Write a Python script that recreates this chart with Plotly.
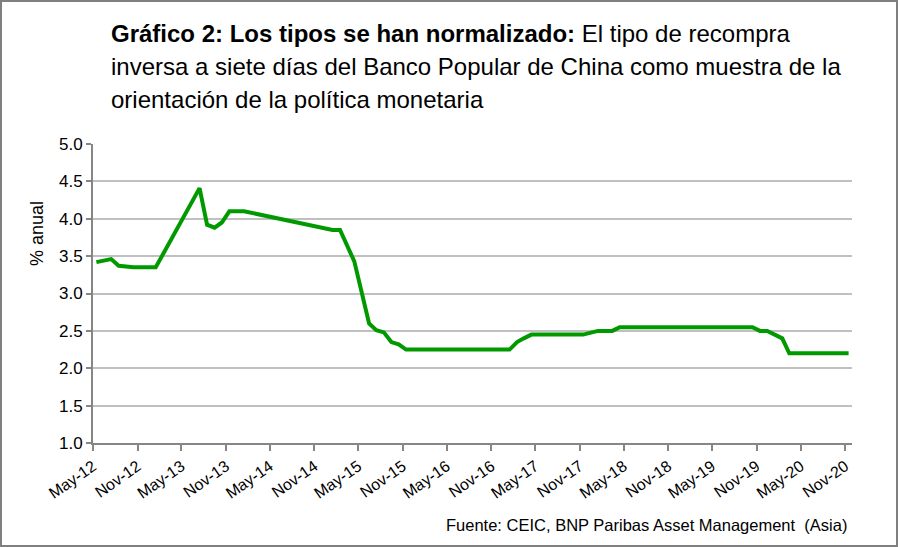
import plotly.graph_objects as go

dates = ["2012-05-15", "2012-07-15", "2012-08-15", "2012-10-15", "2013-01-15",
         "2013-07-15", "2013-08-15", "2013-09-15", "2013-10-15", "2013-11-15",
         "2014-01-15", "2015-01-15", "2015-02-15", "2015-04-15", "2015-06-15",
         "2015-07-15", "2015-08-15", "2015-09-15", "2015-10-15", "2015-11-15",
         "2017-01-15", "2017-02-15", "2017-03-15", "2017-04-15", "2017-11-15",
         "2018-01-15", "2018-03-15", "2018-04-15", "2019-10-15", "2019-11-15",
         "2019-12-15", "2020-02-15", "2020-03-15", "2020-11-15"]
rates = [3.42, 3.46, 3.37, 3.35, 3.35,
         4.41, 3.92, 3.88, 3.95, 4.10,
         4.10, 3.85, 3.85, 3.43, 2.60,
         2.51, 2.48, 2.35, 2.32, 2.25,
         2.25, 2.35, 2.40, 2.45, 2.45,
         2.50, 2.50, 2.55, 2.55, 2.50,
         2.50, 2.40, 2.20, 2.20]

y_ticks = [1.0, 1.5, 2.0, 2.5, 3.0, 3.5, 4.0, 4.5, 5.0]

title_lines = ["<b>Gráfico 2: Los tipos se han normalizado:</b> El tipo de recompra",
               "inversa a siete días del Banco Popular de China como muestra de la",
               "orientación de la política monetaria"]
y_title = "% anual"
source = "Fuente: CEIC, BNP Paribas Asset Management  (Asia)"

W, H = 898, 547
ml, mr, mt, mb = 93, 46, 144, 104
pw, ph = W - ml - mr, H - mt - mb

FONT = "Liberation Sans, Arial, sans-serif"


def px(xp):
    return (xp - ml) / pw


def py(yp):
    return (H - mb - yp) / ph


fig = go.Figure()
fig.add_trace(go.Scatter(x=dates, y=rates, mode="lines",
                         line=dict(color="#009A00", width=4), hoverinfo="skip"))

fig.update_layout(
    width=W, height=H,
    margin=dict(l=ml, r=mr, t=mt, b=mb),
    paper_bgcolor="white", plot_bgcolor="white",
    showlegend=False,
    font=dict(family=FONT, color="black"),
    xaxis=dict(type="date", range=["2012-05-01", "2020-11-29"],
               tick0="2012-05-01", dtick="M6", tickformat="%b-%y",
               tickangle=-35, ticks="outside", ticklen=6, tickwidth=2,
               tickcolor="#868686", showline=True, linecolor="#868686",
               linewidth=2, showgrid=False, zeroline=False,
               tickfont=dict(size=16, family=FONT)),
    yaxis=dict(range=[1.0, 5.0], tickvals=y_ticks,
               ticktext=[f"{v:.1f}" for v in y_ticks],
               ticks="outside", ticklen=5, tickwidth=2, tickcolor="#868686",
               showline=True, linecolor="#868686", linewidth=2,
               showgrid=True, gridcolor="#C0C0C0", gridwidth=2, zeroline=False,
               tickfont=dict(size=17, family=FONT)),
)

for i, line in enumerate(title_lines):
    fig.add_annotation(text=line, xref="paper", yref="paper",
                       x=px(109), y=py(18 + 33 * i),
                       xanchor="left", yanchor="top", align="left", showarrow=False,
                       font=dict(size=24, family=FONT, color="black"))

fig.add_annotation(text=y_title, xref="paper", yref="paper",
                   x=px(37), y=py(234), textangle=-90,
                   xanchor="center", yanchor="middle", showarrow=False,
                   font=dict(size=18, family=FONT, color="black"))

fig.add_annotation(text=source, xref="paper", yref="paper",
                   x=px(849), y=py(514),
                   xanchor="right", yanchor="top", showarrow=False,
                   font=dict(size=16.5, family=FONT, color="black"))

fig.add_shape(type="rect", xref="paper", yref="paper",
              x0=px(1), x1=px(W - 1), y0=py(H - 1), y1=py(1),
              line=dict(color="#7F7F7F", width=2), fillcolor="rgba(0,0,0,0)",
              layer="above")

fig.write_html("out.html")
